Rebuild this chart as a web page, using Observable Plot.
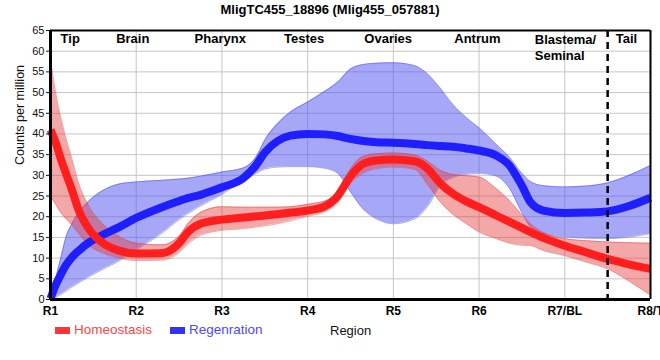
<!DOCTYPE html>
<html>
<head>
<meta charset="utf-8">
<script src="https://cdn.jsdelivr.net/npm/d3@7"></script>
<script src="https://cdn.jsdelivr.net/npm/@observablehq/plot@0.6"></script>
<style>
  html, body { margin: 0; padding: 0; background: #fff; }
  #wrap { position: relative; width: 660px; height: 360px; font-family: "Liberation Sans", Arial, sans-serif; }
  #wrap svg { position: absolute; left: 0; top: 0; }
  .title { position: absolute; left: 0; top: 2px; width: 660px; text-align: center; font-size: 13px; font-weight: bold; line-height: 16px; color: #000; }
  .sw { position: absolute; width: 15px; height: 7px; }
  .lt { position: absolute; font-size: 13.5px; line-height: 16px; white-space: nowrap; }
</style>
</head>
<body>
<div id="wrap"></div>
<script>
// ---- data ----
const regionLabels = ["R1", "R2", "R3", "R4", "R5", "R6", "R7/BL", "R8/T"];
const regionTicks = [1, 2, 3, 4, 5, 6, 7, 8];
const tissueNames = ["Tip", "Brain", "Pharynx", "Testes", "Ovaries", "Antrum", "Blastema/\nSeminal", "Tail"];
const tissuePos = [1.23, 1.96, 2.98, 3.96, 4.94, 5.98, 6.65, 7.72];
const tailBoundary = [7.5];
const yTicks = [0, 5, 10, 15, 20, 25, 30, 35, 40, 45, 50, 55, 60, 65];

const xs = [1, 1.06, 1.12, 1.18, 1.25, 1.33, 1.45, 1.6, 1.8, 2, 2.3, 2.5, 2.6, 2.75, 3, 3.25, 3.4, 3.5, 3.65, 3.8, 4, 4.2, 4.35, 4.5, 4.65, 4.8, 5, 5.25, 5.4, 5.55, 5.7, 5.85, 6, 6.2, 6.35, 6.5, 6.6, 6.75, 7, 7.25, 7.5, 7.75, 8];

const homeoMid = [41, 38, 34, 30.5, 26.5, 21.5, 17, 13.8, 11.8, 11.1, 11.2, 13.6, 16.2, 18.3, 19.3, 19.8, 20.1, 20.3, 20.6, 21, 21.5, 22.5, 25, 29.8, 32.8, 33.6, 33.8, 33.4, 31.6, 28, 25.5, 23.7, 22.3, 20.3, 18.8, 17.3, 16.3, 14.9, 13, 11.4, 9.8, 8.5, 7.4];
const homeoHi = [58, 50, 44, 39, 34, 28, 22.5, 18.5, 15.2, 13.6, 13.2, 15.3, 18.2, 21, 22.4, 22.3, 22.3, 22.3, 22.3, 22.4, 23, 23.8, 26, 31.5, 34.6, 35.2, 35.4, 34.9, 33.4, 31.2, 30.2, 29.9, 29.6, 26.8, 24, 20.5, 18.3, 16.2, 14.7, 14.2, 13.9, 13.7, 13.6];
const homeoLo = [25, 23, 21, 19.5, 18, 15.9, 13, 11.3, 10, 9.4, 9.5, 11.3, 13.3, 15.5, 16.7, 17.1, 17.5, 17.8, 18.3, 19, 20.1, 21.2, 23.3, 28, 30.5, 31.6, 32, 31.4, 27.8, 23.5, 20.5, 18.3, 16.3, 14.7, 13.6, 13.1, 13, 11.8, 10.6, 9, 7.4, 4.4, 1];

const regenMid = [0.2, 3.5, 6, 8.3, 10.2, 11.8, 13.8, 15.5, 17.5, 19.7, 22.3, 23.8, 24.5, 25.3, 27.1, 29.3, 32.5, 35.5, 38.3, 39.6, 40, 39.9, 39.5, 38.8, 38.3, 38, 37.9, 37.6, 37.3, 37.1, 36.9, 36.5, 36, 34.8, 32.5, 27.5, 23.5, 21.5, 20.9, 21, 21.3, 22.6, 24.6];
const regenHi = [0.5, 5, 10, 15, 18.3, 21, 23.8, 26.2, 27.9, 28.4, 28.8, 29.1, 29.3, 29.8, 30.8, 31.8, 34.5, 38.5, 42.5, 45.3, 47.7, 50.3, 52.5, 55.7, 56.8, 57.1, 57.2, 56.5, 54.5, 51, 47, 44, 41.5, 37.5, 34.5, 30.5, 28.5, 27.5, 27.2, 27.4, 28.2, 30, 32.4];
const regenLo = [0, 0.5, 1.2, 2, 3, 4, 5.5, 7.2, 9.3, 12, 16, 19.3, 20.7, 22.6, 25.4, 28.8, 30.5, 31.5, 32, 32.1, 32.1, 31.7, 30.5, 26, 21.8, 19.5, 18.3, 19.5, 22.5, 27.5, 29.5, 30.2, 30.5, 29.8, 27, 21, 17.5, 15.8, 15.1, 14.8, 14.7, 15.1, 15.9];

const seriesNames = ["Homeostasis", "Regenration"];
const lineColors = ["#ff1e1e", "#1e1eff"];
// ---------------------------------------

const homeo = xs.map((x, i) => ({x, mid: homeoMid[i], lo: homeoLo[i], hi: homeoHi[i]}));
const regen = xs.map((x, i) => ({x, mid: regenMid[i], lo: regenLo[i], hi: regenHi[i]}));
const tissues = tissueNames.map((name, i) => ({name, pos: tissuePos[i]}));

const font = "Liberation Sans, Arial, sans-serif";
const curve = "monotone-x";

const chart = Plot.plot({
  width: 660,
  height: 360,
  marginLeft: 50,
  marginRight: 10,
  marginTop: 30,
  marginBottom: 61,
  style: {fontFamily: font, background: "transparent", overflow: "visible"},
  x: {domain: [1, 8]},
  y: {domain: [0, 65]},
  marks: [
    Plot.gridY(yTicks.filter(d => d > 0 && d < 65), {stroke: "#c6c6c6", strokeOpacity: 1}),
    Plot.gridX(regionTicks.filter(d => d > 1 && d < 8), {stroke: "#c6c6c6", strokeOpacity: 1}),
    // bands
    Plot.areaY(regen, {x: "x", y1: "lo", y2: "hi", curve, fill: "rgb(80,80,240)", fillOpacity: 0.5}),
    Plot.line(regen, {x: "x", y: "hi", curve, stroke: "rgb(70,70,235)", strokeOpacity: 0.45, strokeWidth: 1}),
    Plot.line(regen, {x: "x", y: "lo", curve, stroke: "rgb(70,70,235)", strokeOpacity: 0.45, strokeWidth: 1}),
    Plot.areaY(homeo, {x: "x", y1: "lo", y2: "hi", curve, fill: "rgb(230,60,60)", fillOpacity: 0.45}),
    Plot.line(homeo, {x: "x", y: "hi", curve, stroke: "rgb(225,60,60)", strokeOpacity: 0.45, strokeWidth: 1}),
    Plot.line(homeo, {x: "x", y: "lo", curve, stroke: "rgb(225,60,60)", strokeOpacity: 0.45, strokeWidth: 1}),
    // mean lines
    Plot.line(regen, {x: "x", y: "mid", curve, stroke: lineColors[1], strokeWidth: 8, strokeLinecap: "butt"}),
    Plot.line(homeo, {x: "x", y: "mid", curve, stroke: lineColors[0], strokeWidth: 8, strokeLinecap: "butt"}),
    // tail boundary
    Plot.ruleX(tailBoundary, {stroke: "#000", strokeWidth: 2.5, strokeDasharray: "7,5"}),
    // frame
    Plot.ruleY([65], {stroke: "#000", strokeWidth: 2}),
    Plot.ruleX([8], {stroke: "#000", strokeWidth: 2}),
    Plot.ruleX([1], {stroke: "#000", strokeWidth: 3}),
    Plot.ruleY([0], {stroke: "#000", strokeWidth: 3}),
    // axes
    Plot.axisY({ticks: yTicks, tickSize: 4, tickPadding: 2, fontSize: 11, label: null, color: "#111"}),
    Plot.axisX({ticks: regionTicks, tickFormat: d => regionLabels[d - 1], tickSize: 0, tickPadding: 7, fontSize: 12, fontWeight: "bold", label: null, color: "#000"}),
    Plot.text(["Counts per million"], {frameAnchor: "left", dx: -31, rotate: -90, fontSize: 12.5, fill: "#111"}),
    // tissue labels
    Plot.text(tissues.filter(d => !d.name.includes("\n")), {x: "pos", text: "name", frameAnchor: "top", lineAnchor: "top", dy: 3, fontSize: 13, fontWeight: "bold", fill: "#000"}),
    Plot.text(tissues.filter(d => d.name.includes("\n")), {x: "pos", text: "name", frameAnchor: "top", lineAnchor: "top", dy: 3, textAnchor: "start", lineHeight: 1.18, fontSize: 13, fontWeight: "bold", fill: "#000"})
  ]
});

const wrap = document.getElementById("wrap");
wrap.appendChild(chart);

const title = document.createElement("div");
title.className = "title";
title.textContent = "MligTC455_18896 (Mlig455_057881)";
wrap.appendChild(title);

// legend
const legendItems = [
  {name: seriesNames[0], sw: "#ff3535", text: "#ff4444", swLeft: 55, textLeft: 74},
  {name: seriesNames[1], sw: "#3333ff", text: "#4848ff", swLeft: 170, textLeft: 189}
];
for (const it of legendItems) {
  const s = document.createElement("div");
  s.className = "sw";
  s.style.left = it.swLeft + "px";
  s.style.top = "327px";
  s.style.background = it.sw;
  wrap.appendChild(s);
  const t = document.createElement("div");
  t.className = "lt";
  t.style.left = it.textLeft + "px";
  t.style.top = "322px";
  t.style.color = it.text;
  t.textContent = it.name;
  wrap.appendChild(t);
}
const reg = document.createElement("div");
reg.className = "lt";
reg.style.left = "330px";
reg.style.top = "323px";
reg.style.fontSize = "13px";
reg.style.color = "#111";
reg.textContent = "Region";
wrap.appendChild(reg);
</script>
</body>
</html>
